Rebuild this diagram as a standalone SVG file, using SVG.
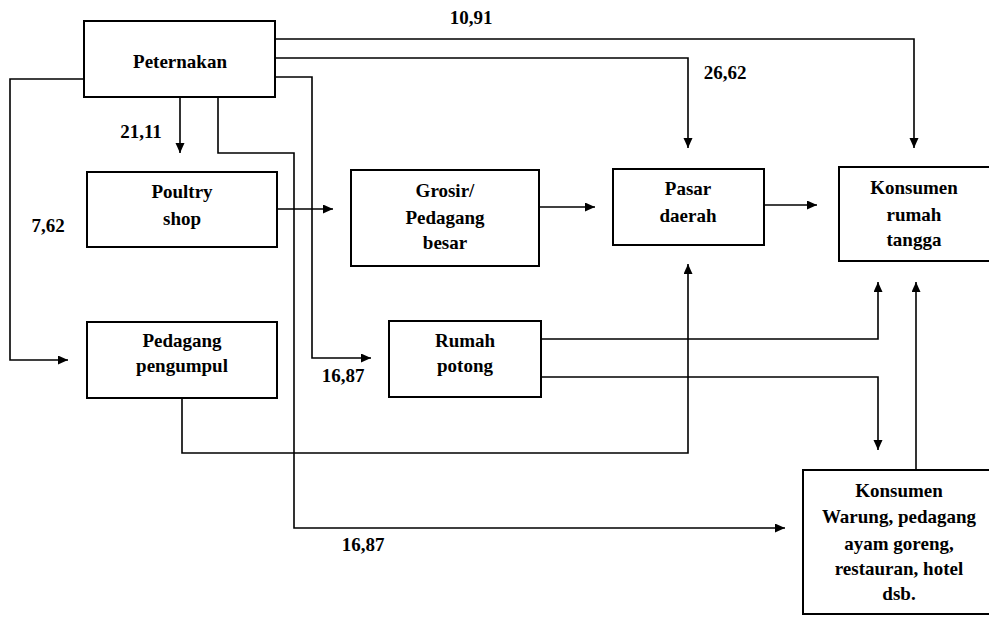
<svg xmlns="http://www.w3.org/2000/svg" width="989" height="620" viewBox="0 0 989 620">
<style>
.box{fill:#fff;stroke:#000;stroke-width:2}
.c{fill:none;stroke:#000;stroke-width:1.6}
text{font-family:"Liberation Serif","Times New Roman",serif;font-weight:bold;font-size:19px;fill:#000}
.m{text-anchor:middle}
</style>
<defs>
<marker id="ah" markerUnits="userSpaceOnUse" markerWidth="12" markerHeight="10" refX="10" refY="4.5" orient="auto">
<path d="M0,0 L10,4.5 L0,9 Z" fill="#000"/>
</marker>
</defs>
<rect width="989" height="620" fill="#fff"/>
<g id="connectors">
<path class="c" d="M275,39 H914 V148" marker-end="url(#ah)"/>
<path class="c" d="M275,58 H688 V148" marker-end="url(#ah)"/>
<path class="c" d="M275,77 H312 V358 H371" marker-end="url(#ah)"/>
<path class="c" d="M84,79 H10 V360 H68" marker-end="url(#ah)"/>
<path class="c" d="M180,97 V153" marker-end="url(#ah)"/>
<path class="c" d="M218,97 V153 H294 V528 H785" marker-end="url(#ah)"/>
<path class="c" d="M277,209 H333" marker-end="url(#ah)"/>
<path class="c" d="M539,207 H595" marker-end="url(#ah)"/>
<path class="c" d="M764,205 H817" marker-end="url(#ah)"/>
<path class="c" d="M182,398 V453 H688 V264" marker-end="url(#ah)"/>
<path class="c" d="M541,339 H878 V282" marker-end="url(#ah)"/>
<path class="c" d="M541,377 H878 V450" marker-end="url(#ah)"/>
<path class="c" d="M916,470 V282" marker-end="url(#ah)"/>
</g>
<g id="labels">
<text class="m" x="471" y="24">10,91</text>
<text class="m" x="725" y="79">26,62</text>
<text class="m" x="141" y="138">21,11</text>
<text class="m" x="48" y="232">7,62</text>
<text class="m" x="343" y="382">16,87</text>
<text class="m" x="363" y="551">16,87</text>
</g>
<g id="peternakan">
<rect class="box" x="84" y="21" width="191" height="76"/>
<text class="m" x="180" y="68">Peternakan</text>
</g>
<g id="poultry">
<rect class="box" x="87" y="172" width="190" height="75"/>
<text class="m" x="182" y="198">Poultry</text>
<text class="m" x="182" y="225">shop</text>
</g>
<g id="grosir">
<rect class="box" x="351" y="170" width="188" height="96"/>
<text class="m" x="445" y="197">Grosir/</text>
<text class="m" x="445" y="224">Pedagang</text>
<text class="m" x="445" y="249">besar</text>
</g>
<g id="pasar">
<rect class="box" x="613" y="169" width="151" height="76"/>
<text class="m" x="688" y="195">Pasar</text>
<text class="m" x="688" y="222">daerah</text>
</g>
<g id="konsumen-rt">
<rect class="box" x="839" y="167" width="155" height="94"/>
<text class="m" x="914" y="194">Konsumen</text>
<text class="m" x="914" y="221">rumah</text>
<text class="m" x="914" y="246">tangga</text>
</g>
<g id="pengumpul">
<rect class="box" x="87" y="322" width="190" height="76"/>
<text class="m" x="182" y="347">Pedagang</text>
<text class="m" x="182" y="372">pengumpul</text>
</g>
<g id="rumah-potong">
<rect class="box" x="389" y="321" width="152" height="76"/>
<text class="m" x="465" y="347">Rumah</text>
<text class="m" x="465" y="372">potong</text>
</g>
<g id="konsumen-warung">
<rect class="box" x="803" y="470" width="191" height="144"/>
<text class="m" x="899" y="497">Konsumen</text>
<text class="m" x="899" y="523">Warung, pedagang</text>
<text class="m" x="899" y="550">ayam goreng,</text>
<text class="m" x="899" y="575">restauran, hotel</text>
<text class="m" x="899" y="600">dsb.</text>
</g>
</svg>
